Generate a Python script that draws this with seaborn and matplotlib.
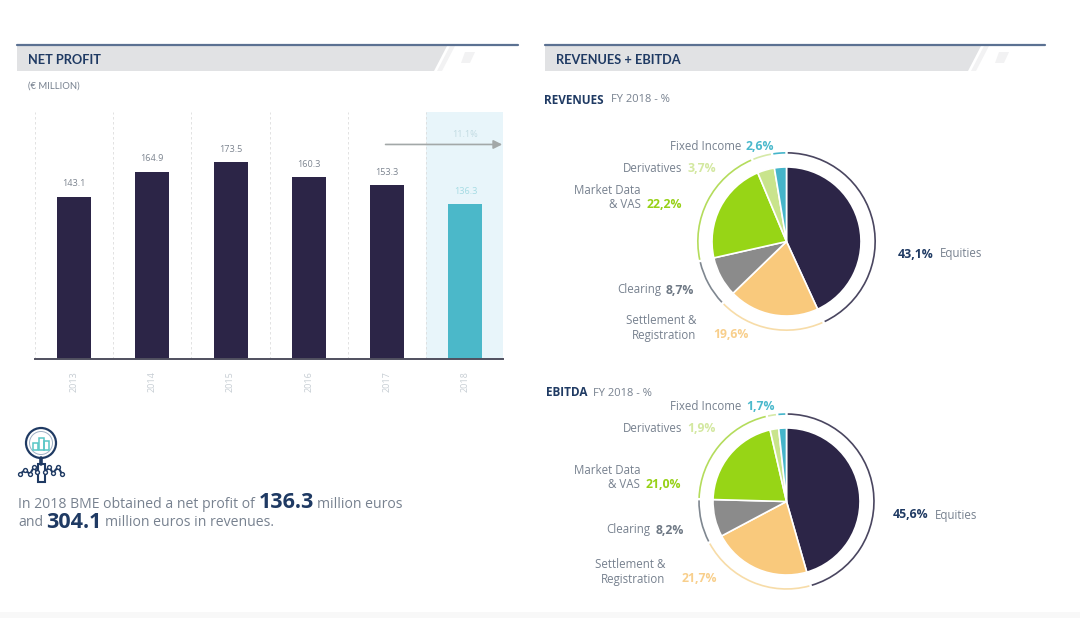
import matplotlib
matplotlib.use("Agg")
import matplotlib.pyplot as plt
from matplotlib.patches import Polygon, Circle, Rectangle, Arc
import seaborn as sns

# ── 1. Values ────────────────────────────────────────────────
years = ["2013", "2014", "2015", "2016", "2017", "2018"]
net_profit = [143.1, 164.9, 173.5, 160.3, 153.3, 136.3]

segments = ["Equities", "Settlement", "Clearing", "Market Data", "Derivatives", "Fixed Income"]
revenues = [43.1, 19.6, 8.7, 22.2, 3.7, 2.6]
ebitda = [45.6, 21.7, 8.2, 21.0, 1.9, 1.7]

# ── 2. Colours and theme ─────────────────────────────────────
NAVY = "#2c2547"
TEAL = "#4bb8c9"
INK = "#1f3a63"
GREY = "#77818f"
pie_colors = [NAVY, "#f9c97c", "#8b8b8b", "#97d516", "#c9e48c", "#45b5ca"]
ring_colors = ["#4a4660", "#f7dca8", "#7f8790", "#b4dc5c", "#d6e9a8", "#45b5ca"]
label_colors = [INK, "#f8cf8c", "#6f7985", "#97d117", "#d3e8a0", "#4bb9cc"]

sns.set_theme(style="white")
plt.rcParams["font.family"] = ["Open Sans", "DejaVu Sans"]

W, H = 1080, 618
plt.figure(figsize=(W / 100, H / 100), dpi=100)

# ── 3. Page layer in pixel coordinates ───────────────────────
page = plt.axes([0, 0, 1, 1])
page.set_xlim(0, W)
page.set_ylim(H, 0)
page.axis("off")
page.add_patch(Rectangle((0, 612), W, 6, color="#f8f8f8", lw=0))

# header bands
for x0, x1, x_end, title in [(17, 518, 447, "NET PROFIT"), (545, 1045, 981, "REVENUES + EBITDA")]:
    page.add_patch(Polygon([(x0, 46), (x_end, 46), (x_end - 13, 71), (x0, 71)], color="#e1e2e4", lw=0))
    page.add_patch(Polygon([(x_end + 3, 46), (x_end + 8, 46), (x_end - 5, 71), (x_end - 10, 71)], color="#f2f2f3", lw=0))
    page.add_patch(Polygon([(x_end + 18, 52), (x_end + 28, 52), (x_end + 23, 63), (x_end + 14, 63)], color="#f2f2f3", lw=0))
    page.plot([x0, x1], [45, 45], color="#5b7192", lw=1.6)
    page.text(x0 + 11, 60, title, fontsize=9.2, fontweight="bold", color=INK, va="center", family=["Lato"])

page.text(28, 86, "(€ MILLION)", fontsize=6.8, color=GREY, va="center", family=["Lato"])

# ── 4. Net profit bars ───────────────────────────────────────
plt.axes([35 / W, 1 - 359 / H, 468 / W, 247 / H], facecolor="none")
ax = plt.gca()
plt.axvspan(4.5, 5.48, color="#e8f5fa", lw=0)
for i in range(6):
    plt.axvline(i - 0.5, color="#dddddd", lw=0.6, ls=(0, (3, 3)))
plt.axvline(5.48, color="#d5e6ec", lw=0.6, ls=(0, (3, 3)))

sns.barplot(x=years, y=net_profit, hue=years, palette=[NAVY] * 5 + [TEAL],
            width=0.435, legend=False, saturation=1, linewidth=0, ax=ax)
plt.xlim(-0.498, 5.48)
plt.ylim(0, 217.6)
plt.yticks([])
plt.xticks(rotation=90, fontsize=6.5, color="#c6cdd3")
ax.tick_params(axis="x", length=0, pad=9)
sns.despine(left=True)
ax.spines["bottom"].set_color("#50505f")
ax.spines["bottom"].set_linewidth(1.4)

for container, value in zip(ax.containers, net_profit):
    ax.bar_label(container, labels=[f"{value:.1f}"], padding=6, fontsize=6.6,
                 color="#a5dbe3" if value == net_profit[-1] else "#7d8590")

plt.annotate("", xy=(5.47, 189), xytext=(3.98, 189),
             arrowprops=dict(arrowstyle="-|>", color="#a3a8a8", lw=1.2, mutation_scale=13,
                             shrinkA=0, shrinkB=0))
plt.text(5.0, 198, "11.1%", fontsize=6.6, color="#c2dbe2", ha="center", va="center")

# ── 5. Pies with their outer rings ───────────────────────────
for shares, cy, r in [(revenues, 241.5, 74.5), (ebitda, 501.5, 73.5)]:
    half = r * 1.25
    plt.axes([(786.5 - half) / W, 1 - (cy + half) / H, 2 * half / W, 2 * half / H], facecolor="none")
    plt.pie(shares, colors=pie_colors, startangle=90, counterclock=False,
            wedgeprops=dict(edgecolor="white", linewidth=1.2))
    plt.xlim(-1.25, 1.25)
    plt.ylim(-1.25, 1.25)
    angle = 90
    for share, color in zip(shares, ring_colors):
        sweep = share / sum(shares) * 360
        # small gap between two ring pieces
        plt.gca().add_patch(Arc((0, 0), 2.38, 2.38, theta1=angle - sweep + 0.8, theta2=angle - 0.8,
                                color=color, lw=1.2))
        angle -= sweep

# ── 6. Pie captions ──────────────────────────────────────────
LABEL = 8.3
VALUE = 8.8

def pct(v):
    return f"{v:.1f}".replace(".", ",") + "%"

for x, y, name, x2, y2, value, color in [
    (741, 145, "Fixed Income", 746, 145, revenues[5], label_colors[5]),
    (682, 168, "Derivatives", 687, 168, revenues[4], label_colors[4]),
    (641, 204, "& VAS", 647, 204, revenues[3], label_colors[3]),
    (661, 289, "Clearing", 666, 289, revenues[2], label_colors[2]),
    (696, 334, "Registration", 713, 334, revenues[1], label_colors[1]),
    (741, 405, "Fixed Income", 746, 405, ebitda[5], label_colors[5]),
    (682, 428, "Derivatives", 687, 428, ebitda[4], label_colors[4]),
    (640, 484, "& VAS", 646, 484, ebitda[3], label_colors[3]),
    (650, 529, "Clearing", 656, 529, ebitda[2], label_colors[2]),
    (665, 578, "Registration", 682, 578, ebitda[1], label_colors[1]),
]:
    page.text(x, y + 1, name, fontsize=LABEL, color=GREY, ha="right", va="center")
    page.text(x2, y2 + 1, pct(value), fontsize=VALUE, color=color, fontweight="bold", va="center")

for x, y, name in [(641, 189, "Market Data"), (696, 319, "Settlement &"),
                   (640, 470, "Market Data"), (665, 564, "Settlement &")]:
    page.text(x, y + 1, name, fontsize=LABEL, color=GREY, ha="right", va="center")

page.text(898, 254, pct(revenues[0]), fontsize=VALUE, color=INK, fontweight="bold", va="center")
page.text(940, 254, segments[0], fontsize=LABEL, color=GREY, va="center")
page.text(893, 515, pct(ebitda[0]), fontsize=VALUE, color=INK, fontweight="bold", va="center")
page.text(935, 515, segments[0], fontsize=LABEL, color=GREY, va="center")

page.text(544, 100, "REVENUES", fontsize=8.5, color=INK, fontweight="bold", va="center")
page.text(611, 100, "FY 2018 - %", fontsize=8, color=GREY, va="center")
page.text(546, 393, "EBITDA", fontsize=8.5, color=INK, fontweight="bold", va="center")
page.text(593, 393, "FY 2018 - %", fontsize=8, color=GREY, va="center")

# ── 7. Bottom note and icon ──────────────────────────────────
for x, y, text, size, weight, color in [
    (18, 505, "In 2018 BME obtained a net profit of", 10.1, "normal", GREY),
    (259, 503, "136.3", 15.5, "bold", INK),
    (317, 505, "million euros", 10.1, "normal", GREY),
    (18, 523, "and", 10.1, "normal", GREY),
    (46, 522, "304.1", 15.5, "bold", INK),
    (105, 523, "million euros in revenues.", 10.1, "normal", GREY),
]:
    page.text(x, y, text, fontsize=size, fontweight=weight, color=color, va="center")

page.add_patch(Circle((41, 443), 15, fill=False, ec=INK, lw=1.6))
page.add_patch(Circle((41, 443), 11.5, fill=False, ec="#9fb0c4", lw=0.7))
for x, y, w, h in [(33, 443, 5, 7), (38.5, 438, 5.5, 12), (44, 441, 5, 9)]:
    page.add_patch(Rectangle((x, y), w, h, fill=False, ec="#58c6c6", lw=1.1))
page.add_patch(Rectangle((37.5, 464), 7, 18, fill=False, ec=INK, lw=1.5))
page.plot([41, 41], [458, 464], color=INK, lw=2.6)
page.plot([20, 25, 30, 34, 37], [474, 470, 474, 467, 472], color=INK, lw=1.5, marker="o", ms=2.8, mfc="white")
page.plot([45, 49, 53, 58, 62], [472, 467, 473, 467, 474], color=INK, lw=1.5, marker="o", ms=2.8, mfc="white")

plt.savefig("out.png", dpi=100)
print("[OK] out.png saved!")
